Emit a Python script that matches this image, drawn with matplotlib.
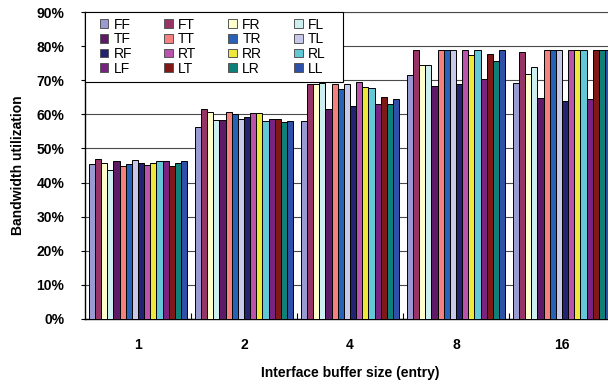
import matplotlib
matplotlib.use("Agg")
import matplotlib.pyplot as plt
from matplotlib.patches import Rectangle
import numpy as np

plt.rcParams['font.family'] = ['Liberation Sans', 'DejaVu Sans']

buffer_sizes = ['1', '2', '4', '8', '16']
series_names = ['FF', 'FT', 'FR', 'FL', 'TF', 'TT', 'TR', 'TL',
                'RF', 'RT', 'RR', 'RL', 'LF', 'LT', 'LR', 'LL']

# bandwidth utilization (%) per buffer size, one value per series
util_1 = [45.5, 46.9, 45.7, 43.7, 46.3, 44.9, 45.5, 46.6,
          45.7, 45.2, 45.7, 46.4, 46.4, 44.9, 45.7, 46.4]
util_2 = [56.3, 61.5, 60.8, 58.4, 58.4, 60.8, 60.1, 58.7,
          59.2, 60.5, 60.4, 58.0, 58.5, 58.7, 57.7, 58.1]
util_4 = [58.1, 68.9, 68.8, 69.1, 61.6, 68.8, 67.4, 68.8,
          62.3, 69.6, 68.1, 67.8, 63.1, 65.2, 63.1, 64.5]
util_8 = [71.6, 78.9, 74.5, 74.5, 68.3, 78.9, 78.9, 78.9,
          68.9, 78.9, 77.4, 78.9, 70.5, 77.6, 75.5, 78.9]
util_16 = [69.1, 78.4, 71.8, 73.8, 64.9, 78.9, 78.9, 78.9,
           64.0, 78.9, 78.9, 78.9, 64.5, 78.9, 78.9, 78.9]

colors = ['#9a9ad2', '#973366', '#ffffcc', '#cdeff0', '#5e1a66', '#f58080',
          '#2862b8', '#c8c8ea', '#232372', '#bb52ab', '#eee83a', '#62c8d6',
          '#7a2282', '#801818', '#0e8078', '#2e50a8']

data = np.array([util_1, util_2, util_4, util_8, util_16])

fig = plt.figure(figsize=(6.08, 3.87), dpi=100)
ax = fig.add_axes([85/608, 68/387, 530/608, 307/387])

n = len(series_names)
w = 0.058
x = np.arange(len(buffer_sizes))
bars = []
for j in range(n):
    b = ax.bar(x + (j - (n - 1) / 2) * w, data[:, j], width=w,
               color=colors[j], edgecolor='black', linewidth=0.7, zorder=3)
    bars.append(b)

ax.set_xlim(-0.5, len(buffer_sizes) - 0.5)
ax.set_ylim(0, 90)
ax.set_yticks(np.arange(0, 91, 10))
ax.set_yticklabels([f'{v}%' for v in range(0, 91, 10)])
ax.yaxis.grid(True, color='#4a4a4a', linewidth=0.8, zorder=0)
ax.set_axisbelow(True)

ax.set_xticks(x)
ax.set_xticklabels(buffer_sizes)
ax.set_xticks(np.arange(0.5, len(buffer_sizes) - 0.5, 1), minor=True)
ax.tick_params(axis='x', which='major', length=0, pad=14)
ax.tick_params(axis='x', which='minor', direction='in', length=4, width=0.8)
ax.tick_params(axis='y', direction='out', length=3, pad=12)
for lab in ax.get_xticklabels() + ax.get_yticklabels():
    lab.set_fontweight('bold')
    lab.set_fontsize(10)

ax.spines['right'].set_visible(False)
ax.spines['top'].set_color('#4a4a4a')
ax.spines['left'].set_linewidth(1.0)
ax.spines['bottom'].set_linewidth(1.0)

ax.set_ylabel('Bandwidth utilization', fontsize=10, fontweight='bold')
ax.yaxis.set_label_coords(-0.113, 0.5)
ax.set_xlabel('Interface buffer size (entry)', fontsize=10, fontweight='bold')
ax.xaxis.set_label_coords(0.5, -0.153)

# legend box drawn separately so the entries can sit further in
box = Rectangle((0, 0.772), 0.487, 0.228, transform=ax.transAxes,
                facecolor='white', edgecolor='black', linewidth=0.8,
                zorder=4, clip_on=False)
ax.add_patch(box)

# legend filled row by row
order = [r * 4 + c for c in range(4) for r in range(4)]
leg = ax.legend([bars[i] for i in order], [series_names[i] for i in order],
                ncol=4, loc='upper left', bbox_to_anchor=(15/530, 0.982),
                borderaxespad=0, borderpad=0, frameon=False, fontsize=10,
                handlelength=0.6, handleheight=0.6, handletextpad=0.4,
                columnspacing=2.3, labelspacing=0.05)
leg.set_zorder(5)
for h in leg.legend_handles:
    h.set_edgecolor('#555555')

fig.savefig('out.png', dpi=100)
